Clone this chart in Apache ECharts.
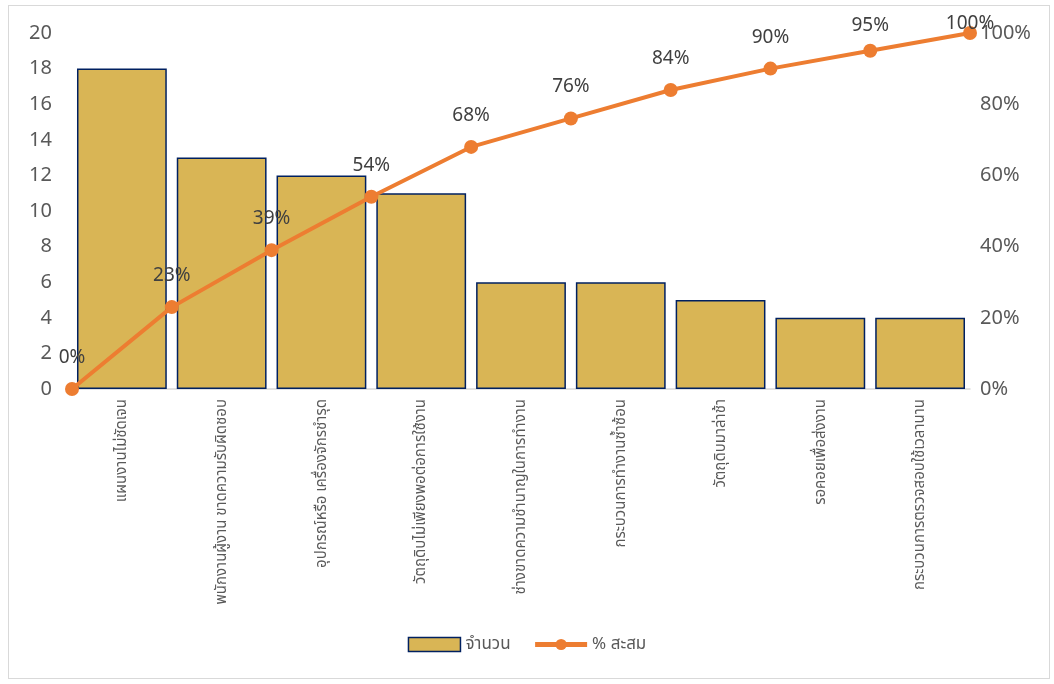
<!DOCTYPE html>
<html><head><meta charset="utf-8">
<script src="https://cdn.jsdelivr.net/npm/echarts@6/dist/echarts.min.js"></script>
<style>
html,body{margin:0;padding:0;background:#fff;}
#frame{position:absolute;left:8px;top:5px;width:1042px;height:674px;border:1px solid #D9D9D9;box-sizing:border-box;}
#c{position:absolute;left:0;top:0;width:1054px;height:684px;}
</style></head>
<body><div id="frame"></div><div id="c"></div>
<script>
const categories = ["แผนงานไม่ชัดเจน","พนักงานผู้งาน ขาดความรับผิดชอบ","อุปกรณ์หรือ เครื่องจักรชำรุด","วัตถุดิบไม่เพียงพอต่อการใช้งาน","ช่างขาดความชำนาญในการทำงาน","กระบวนการทำงานซ้ำซ้อน","วัตถุดิบมาล่าช้า","รอคอยเพื่อส่งงาน","กระบวนการตรวจสอบใช้เวลานาน"];
const counts = [18,13,12,11,6,6,5,4,4];
const cumPoints = ["p0","p1","p2","p3","p4","p5","p6","p7","p8","p9"];
const cumPercent = [0,23,39,54,68,76,84,90,95,100];
const leftTicks = [0,2,4,6,8,10,12,14,16,18,20];
const rightTicks = [0,20,40,60,80,100];

const FONT = '"Noto Sans", "Noto Sans Thai", Tahoma, sans-serif';
// labels near the top edge are pushed down (as in the reference)
const labelShift = {8:[0,6], 9:[0,22]};
const lineData = cumPercent.map((v,i)=> labelShift[i] ? {value:v, label:{offset:labelShift[i]}} : v);

const chart = echarts.init(document.getElementById('c'));
chart.setOption({
  animation:false,
  textStyle:{fontFamily:FONT},
  legend:{
    bottom:26, left:'center', itemGap:22,
    textStyle:{fontSize:17,color:'#595959',fontFamily:FONT},
    data:[
      {name:'จำนวน', icon:'rect', itemStyle:{color:'#D9B555',borderColor:'#002060',borderWidth:1.5}},
      {name:'% สะสม', lineStyle:{width:5,color:'#ED7D31'}, itemStyle:{color:'#ED7D31'}}
    ],
    itemWidth:52, itemHeight:14
  },
  grid:{left:72, right:84, top:33, bottom:295, containLabel:false},
  xAxis:[
    {type:'category', data:categories, position:'bottom',
     axisLine:{lineStyle:{color:'#D9D9D9',width:1.5}}, axisTick:{show:false},
     axisLabel:{rotate:90, interval:0, color:'#595959', fontSize:15, margin:10, fontFamily:FONT}},
    {type:'category', data:cumPoints, boundaryGap:false, show:false, position:'bottom'}
  ],
  yAxis:[
    {type:'value', min:leftTicks[0], max:leftTicks[leftTicks.length-1], interval:2,
     splitLine:{show:false}, axisLine:{show:false}, axisTick:{show:false},
     axisLabel:{color:'#595959', fontSize:20, margin:20, fontFamily:FONT}},
    {type:'value', min:rightTicks[0], max:rightTicks[rightTicks.length-1], interval:20,
     splitLine:{show:false}, axisLine:{show:false}, axisTick:{show:false},
     axisLabel:{color:'#595959', fontSize:20, margin:10, formatter:'{value}%', fontFamily:FONT}}
  ],
  series:[
    {name:'จำนวน', type:'bar', data:counts, xAxisIndex:0, yAxisIndex:0,
     barCategoryGap:'10%',
     itemStyle:{color:'#D9B555', borderColor:'#002060', borderWidth:1.5}},
    {name:'% สะสม', type:'line', data:lineData, xAxisIndex:1, yAxisIndex:1,
     symbol:'circle', symbolSize:14,
     lineStyle:{color:'#ED7D31', width:4}, itemStyle:{color:'#ED7D31'},
     label:{show:true, position:'top', distance:15, formatter:'{c}%', color:'#404040', fontSize:19, fontFamily:FONT},
     z:5}
  ]
});
</script></body></html>
